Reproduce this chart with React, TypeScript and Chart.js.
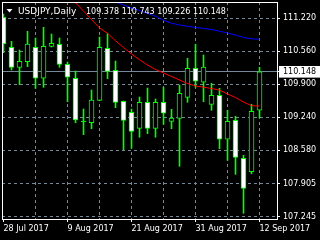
import React, { useEffect, useRef } from 'react';
import { Chart, registerables } from 'chart.js';

Chart.register(...registerables);

const symbolLabel = 'USDJPY,Daily';
const headerOHLC = ['109.378', '110.743', '109.226', '110.148'];

const barDates = [
  '28 Jul 2017', '31 Jul 2017', '1 Aug 2017', '2 Aug 2017', '3 Aug 2017', '4 Aug 2017',
  '7 Aug 2017', '8 Aug 2017', '9 Aug 2017', '10 Aug 2017', '11 Aug 2017', '14 Aug 2017',
  '15 Aug 2017', '16 Aug 2017', '17 Aug 2017', '18 Aug 2017', '21 Aug 2017', '22 Aug 2017',
  '23 Aug 2017', '24 Aug 2017', '25 Aug 2017', '28 Aug 2017', '29 Aug 2017', '30 Aug 2017',
  '31 Aug 2017', '1 Sep 2017', '4 Sep 2017', '5 Sep 2017', '6 Sep 2017', '7 Sep 2017',
  '8 Sep 2017', '11 Sep 2017', '12 Sep 2017',
];

const opens = [
  111.24, 110.639, 110.238, 110.35, 110.639, 110.018, 110.659, 110.699, 110.298, 110.018,
  109.142, 109.128, 109.577, 110.619, 110.178, 109.557, 109.337, 109.016, 109.537, 109.016,
  109.537, 109.156, 109.216, 109.637, 110.218, 109.938, 109.497, 109.677, 108.796, 109.176,
  108.415, 108.146, 109.378,
];
const highs = [
  111.306, 110.759, 110.585, 110.96, 110.825, 111.04, 110.905, 110.825, 110.344, 110.164,
  109.403, 109.783, 110.845, 110.911, 110.364, 109.563, 109.403, 109.643, 109.823, 109.603,
  109.837, 109.397, 109.884, 110.419, 110.699, 110.485, 109.918, 109.818, 109.377, 109.256,
  108.475, 109.497, 110.24,
];
const lows = [
  110.531, 110.184, 109.89, 110.25, 109.817, 109.837, 110.645, 110.238, 109.549, 109.128,
  108.888, 109.008, 109.573, 110.01, 109.429, 108.587, 108.615, 108.836, 108.908, 108.836,
  109.096, 109.008, 108.255, 109.537, 109.837, 109.549, 109.377, 108.607, 108.375, 108.094,
  107.313, 108.106, 109.226,
];
const closes = [
  110.705, 110.238, 110.358, 110.705, 110.018, 110.659, 110.719, 110.298, 110.038, 109.182,
  109.142, 109.583, 110.639, 110.158, 109.537, 109.176, 108.956, 109.537, 109.016, 109.537,
  109.317, 109.222, 109.717, 110.218, 109.958, 110.244, 109.677, 108.796, 109.156, 108.435,
  107.814, 109.357, 110.148,
];

const maRed = [
  null, null, null, null, null, null, null, null,
  111.66, 111.533, 111.364, 111.196, 111.026, 110.919, 110.769, 110.635, 110.505, 110.391,
  110.284, 110.194, 110.124, 110.054, 109.984, 109.914, 109.864, 109.84, 109.813, 109.783,
  109.703, 109.633, 109.543, 109.469, 109.463,
];
const maBlue = [
  null, null, null, null, null, null, null, null, null, null, null, null, null,
  111.607, 111.547, 111.486, 111.426, 111.376, 111.32, 111.26, 111.18, 111.12, 111.086,
  111.06, 111.036, 111.02, 110.996, 110.96, 110.925, 110.885, 110.835, 110.809, 110.799,
];

const yTickValues = [111.22, 110.56, 110.148, 109.9, 109.24, 108.58, 107.905, 107.245];
const xTickIndices = [0, 4, 8, 12, 16, 20, 24, 28, 32];
const lastPrice = 110.148;

const GRID = 'rgb(119,136,153)';
const LIME = '#00ff00';
const FONT = 'DejaVu Sans';

const framePlugin = {
  id: 'mtFrame',
  afterDraw(chart: any) {
    const { ctx, chartArea } = chart;
    ctx.save();
    ctx.strokeStyle = '#ffffff';
    ctx.lineWidth = 1;
    ctx.strokeRect(
      chartArea.left + 0.5,
      chartArea.top + 0.5,
      chartArea.right - chartArea.left,
      chartArea.bottom - chartArea.top
    );
    ctx.fillStyle = '#ffffff';
    ctx.beginPath();
    ctx.moveTo(6.5, 9);
    ctx.lineTo(12.5, 9);
    ctx.lineTo(9.5, 12.5);
    ctx.closePath();
    ctx.fill();
    ctx.textBaseline = 'alphabetic';
    ctx.textAlign = 'left';
    ctx.font = `9px "${FONT}"`;
    ctx.fillText(symbolLabel, 18, 14);
    ctx.font = `8px "${FONT}"`;
    ctx.fillText(headerOHLC.join(' '), 86, 14);
    ctx.restore();
  },
};

export default function App() {
  const canvasRef = useRef<HTMLCanvasElement | null>(null);

  useEffect(() => {
    if (!canvasRef.current) return;
    const toPts = (arr: (number | null)[]) =>
      arr.map((v, i) => ({ x: i, y: v })).filter((p) => p.y !== null);

    const chart = new Chart(canvasRef.current, {
      type: 'bar',
      data: {
        datasets: [
          {
            type: 'line',
            label: 'MA fast',
            data: toPts(maRed) as any,
            borderColor: '#ff0000',
            borderWidth: 1,
            pointRadius: 0,
            tension: 0,
            order: 0,
            clip: 0,
          } as any,
          {
            type: 'line',
            label: 'MA slow',
            data: toPts(maBlue) as any,
            borderColor: '#0000ff',
            borderWidth: 1,
            pointRadius: 0,
            tension: 0,
            order: 0,
            clip: 0,
          } as any,
          {
            type: 'bar',
            label: 'Bodies',
            data: opens.map((o, i) => ({ x: i, y: [o, closes[i]] })) as any,
            backgroundColor: opens.map((o, i) =>
              closes[i] > o ? '#000000' : closes[i] < o ? '#ffffff' : LIME
            ),
            borderColor: LIME,
            borderWidth: 1,
            borderSkipped: false,
            barThickness: 5,
            grouped: false,
            minBarLength: 1,
            order: 1,
            clip: 0,
          } as any,
          {
            type: 'bar',
            label: 'Wicks',
            data: lows.map((l, i) => ({ x: i, y: [l, highs[i]] })) as any,
            backgroundColor: LIME,
            borderWidth: 0,
            barThickness: 1,
            grouped: false,
            order: 2,
            clip: 0,
          } as any,
        ],
      },
      options: {
        animation: false,
        responsive: true,
        maintainAspectRatio: false,
        events: [],
        layout: { padding: { left: 2, top: 2, right: 0, bottom: 0 } },
        plugins: {
          legend: { display: false },
          tooltip: { enabled: false },
          title: { display: false },
        },
        scales: {
          x: {
            type: 'linear',
            min: -0.1875,
            max: 34.1875,
            offset: false,
            bounds: 'data',
            afterBuildTicks: (s: any) => {
              s.ticks = xTickIndices.map((v) => ({ value: v }));
            },
            afterFit: (s: any) => {
              s.height = 21;
              s.paddingLeft = 0;
              s.paddingRight = 0;
            },
            grid: {
              offset: false,
              color: (c: any) => (c.tick && c.tick.value === 0 ? 'rgba(0,0,0,0)' : GRID),
              lineWidth: 1,
              drawTicks: true,
              tickLength: 3,
              tickWidth: 1,
              tickColor: (c: any) =>
                c.tick && c.tick.value % 8 === 0 ? '#ffffff' : 'rgba(0,0,0,0)',
            },
            border: { display: false, dash: (c: any) => (c.tick ? [3, 3] : []) },
            ticks: {
              autoSkip: false,
              maxRotation: 0,
              minRotation: 0,
              align: 'start',
              padding: 2,
              color: '#ffffff',
              font: { family: FONT, size: 8 },
              callback: (v: any) => (Number(v) % 8 === 0 ? barDates[Number(v)] : ''),
            },
          } as any,
          y: {
            type: 'linear',
            position: 'right',
            min: 107.1988,
            max: 111.5466,
            bounds: 'data',
            beginAtZero: false,
            afterBuildTicks: (s: any) => {
              s.ticks = yTickValues.map((v) => ({ value: v }));
            },
            afterFit: (s: any) => {
              s.width = 43;
              s.paddingTop = 0;
              s.paddingBottom = 0;
            },
            grid: {
              color: GRID,
              lineWidth: 1,
              drawTicks: true,
              tickLength: 3,
              tickColor: '#ffffff',
            },
            border: {
              display: false,
              dash: (c: any) => (c.tick && c.tick.value !== lastPrice ? [3, 3] : []),
            },
            ticks: {
              autoSkip: false,
              padding: 3,
              font: { family: FONT, size: 8 },
              color: (c: any) => (c.tick && c.tick.value === lastPrice ? '#000000' : '#ffffff'),
              showLabelBackdrop: true,
              backdropColor: (c: any) =>
                c.tick && c.tick.value === lastPrice ? '#ffffff' : 'rgba(0,0,0,0)',
              backdropPadding: { left: 4, right: 6, top: 1, bottom: 1 },
              callback: (v: any) => Number(v).toFixed(3),
            },
          } as any,
        },
      },
      plugins: [framePlugin],
    });
    return () => chart.destroy();
  }, []);

  return (
    <div
      style={{
        position: 'fixed',
        left: 0,
        top: 0,
        width: 320,
        height: 240,
        background: '#000000',
      }}
    >
      <canvas ref={canvasRef} />
    </div>
  );
}
